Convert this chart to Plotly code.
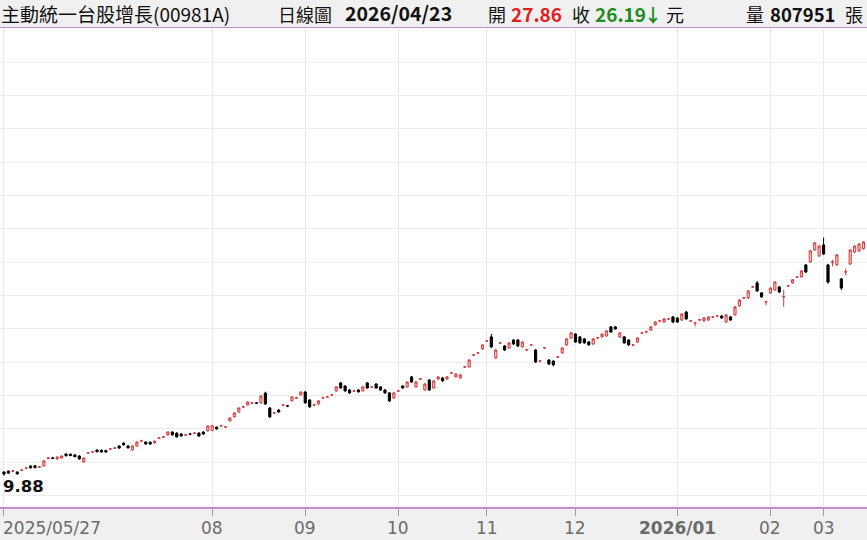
import plotly.graph_objects as go
import pandas as pd

# ---- data -------------------------------------------------------------
holidays = ["2025-05-30", "2025-09-29", "2025-10-06", "2025-10-10", "2025-10-24",
            "2026-01-01", "2026-02-12", "2026-02-13", "2026-02-16", "2026-02-17",
            "2026-02-18", "2026-02-19", "2026-02-20", "2026-02-27"]

opens = [10.05, 10.09, 10.08, 10.05, 10.12, 10.22, 10.32, 10.33, 10.27, 10.32,
         10.66, 10.68, 10.64, 10.68, 10.86, 10.85, 10.82, 10.77, 10.50, 10.90,
         10.95, 11.04, 11.03, 11.02, 11.08, 11.12, 11.22, 11.35, 11.22, 11.04,
         11.22, 11.44, 11.40, 11.39, 11.36, 11.57, 11.62, 11.72, 11.85, 11.80,
         11.76, 11.71, 11.76, 11.80, 11.80, 11.85, 11.90, 11.92, 12.07, 12.12,
         12.07, 12.35, 12.53, 12.75, 12.97, 13.07, 13.15, 13.16, 13.16, 13.60,
         12.93, 12.70, 12.84, 13.06, 13.02, 13.25, 13.38, 13.52, 13.65, 13.29,
         13.06, 13.11, 13.38, 13.43, 13.51, 13.70, 14.06, 13.92, 13.74, 13.69,
         13.74, 13.70, 14.06, 13.87, 14.01, 13.88, 13.74, 13.61, 13.38, 13.69,
         13.92, 13.88, 14.33, 13.88, 14.23, 13.74, 14.19, 13.83, 14.24, 14.28,
         14.24, 14.50, 14.33, 14.28, 14.77, 14.78, 15.31, 15.40, 15.59, 15.94,
         16.13, 15.18, 15.85, 15.72, 15.63, 15.99, 15.99, 15.68, 15.54, 15.76,
         15.54, 15.04, 15.63, 15.09, 15.04, 15.22, 15.41, 15.77, 16.08, 16.26,
         16.13, 16.04, 15.90, 15.81, 16.08, 16.13, 16.17, 16.58, 16.58, 16.13,
         16.13, 15.99, 15.76, 15.90, 16.30, 16.35, 16.44, 16.67, 16.84, 16.80,
         16.93, 17.03, 16.98, 16.89, 17.25, 16.84, 16.75, 16.89, 16.85, 16.89,
         17.02, 17.07, 17.07, 16.80, 17.03, 17.12, 17.52, 17.88, 17.88, 18.37,
         18.56, 18.11, 17.70, 18.11, 18.24, 18.38, 17.93, 18.42, 18.56, 18.82,
         18.83, 19.37, 19.50, 20.04, 19.77, 20.27, 19.37, 19.49, 19.37, 18.74,
         19.05, 19.41, 19.95, 20.00, 20.10]

highs = [10.08, 10.12, 10.14, 10.08, 10.18, 10.28, 10.35, 10.36, 10.32, 10.58,
         10.72, 10.73, 10.76, 10.80, 10.89, 10.88, 10.85, 10.80, 10.71, 10.95,
         11.00, 11.07, 11.06, 11.05, 11.13, 11.17, 11.25, 11.38, 11.26, 11.25,
         11.43, 11.50, 11.43, 11.42, 11.47, 11.62, 11.67, 11.88, 11.88, 11.84,
         11.80, 11.76, 11.80, 11.85, 11.84, 11.88, 12.15, 12.17, 12.10, 12.17,
         12.12, 12.51, 12.74, 12.96, 13.03, 13.23, 13.20, 13.20, 13.52, 13.66,
         12.98, 12.76, 12.88, 13.11, 13.07, 13.46, 13.43, 13.68, 13.70, 13.33,
         13.11, 13.28, 13.43, 13.48, 13.56, 13.91, 14.10, 13.96, 13.78, 13.74,
         13.78, 13.91, 14.10, 13.92, 14.05, 13.92, 13.78, 13.65, 13.64, 13.74,
         13.96, 14.13, 14.37, 14.14, 14.28, 14.05, 14.24, 14.18, 14.36, 14.32,
         14.37, 14.55, 14.50, 14.45, 14.82, 15.13, 15.36, 15.45, 15.80, 15.99,
         16.26, 15.58, 15.90, 15.76, 15.89, 16.03, 16.03, 15.93, 15.59, 15.81,
         15.58, 15.09, 15.68, 15.13, 15.08, 15.27, 15.67, 16.08, 16.34, 16.30,
         16.17, 16.08, 15.94, 16.07, 16.13, 16.29, 16.43, 16.62, 16.62, 16.34,
         16.17, 16.03, 15.81, 16.11, 16.35, 16.40, 16.61, 16.83, 16.89, 16.97,
         16.98, 17.07, 17.02, 17.20, 17.30, 16.89, 16.80, 16.94, 17.02, 17.06,
         17.07, 17.11, 17.11, 17.16, 17.07, 17.52, 17.83, 17.93, 18.24, 18.42,
         18.65, 18.15, 17.75, 18.37, 18.64, 18.42, 18.25, 18.47, 18.73, 18.87,
         19.13, 19.41, 20.04, 20.40, 20.26, 20.60, 19.41, 19.60, 19.86, 18.78,
         19.20, 20.08, 20.26, 20.36, 20.45]

lows = [9.88, 9.97, 10.04, 9.93, 10.09, 10.18, 10.20, 10.21, 10.23, 10.30,
        10.62, 10.63, 10.60, 10.65, 10.75, 10.76, 10.71, 10.60, 10.46, 10.86,
        10.91, 10.93, 10.92, 10.92, 11.04, 11.08, 11.10, 11.24, 11.10, 11.00,
        11.19, 11.40, 11.28, 11.27, 11.33, 11.53, 11.58, 11.69, 11.69, 11.60,
        11.64, 11.67, 11.71, 11.75, 11.63, 11.72, 11.87, 11.88, 11.95, 12.08,
        12.03, 12.32, 12.50, 12.72, 12.93, 13.04, 13.10, 13.11, 13.13, 13.07,
        12.48, 12.66, 12.72, 13.02, 12.97, 13.22, 13.34, 13.49, 13.12, 12.94,
        13.02, 13.08, 13.34, 13.38, 13.47, 13.66, 13.80, 13.66, 13.57, 13.65,
        13.62, 13.66, 13.80, 13.83, 13.80, 13.70, 13.57, 13.20, 13.34, 13.65,
        13.80, 13.84, 14.06, 13.84, 14.19, 13.70, 13.70, 13.80, 14.20, 14.11,
        14.20, 14.46, 14.30, 14.25, 14.73, 14.74, 15.27, 15.36, 15.55, 15.90,
        15.64, 15.14, 15.81, 15.50, 15.60, 15.77, 15.68, 15.64, 15.50, 15.72,
        14.96, 14.98, 15.59, 14.87, 14.80, 15.18, 15.37, 15.73, 16.04, 15.86,
        15.82, 15.82, 15.73, 15.77, 16.04, 16.10, 16.14, 16.31, 16.45, 16.09,
        15.82, 15.73, 15.72, 15.86, 16.26, 16.31, 16.40, 16.63, 16.80, 16.76,
        16.89, 16.76, 16.76, 16.85, 16.90, 16.80, 16.60, 16.85, 16.81, 16.85,
        16.98, 17.02, 16.94, 16.76, 16.85, 17.08, 17.48, 17.84, 17.84, 18.33,
        18.16, 17.89, 17.55, 18.07, 18.20, 18.11, 17.48, 18.38, 18.52, 18.78,
        18.79, 19.01, 19.46, 20.00, 19.73, 19.82, 18.52, 19.30, 19.33, 18.24,
        18.90, 19.37, 19.91, 19.96, 20.05]

closes = [9.96, 10.00, 10.10, 9.97, 10.14, 10.23, 10.24, 10.25, 10.28, 10.55,
          10.68, 10.67, 10.72, 10.77, 10.78, 10.79, 10.74, 10.64, 10.68, 10.91,
          10.96, 10.96, 10.95, 10.95, 11.09, 11.13, 11.13, 11.27, 11.14, 11.22,
          11.40, 11.45, 11.31, 11.31, 11.44, 11.58, 11.63, 11.85, 11.72, 11.63,
          11.67, 11.72, 11.75, 11.80, 11.67, 11.76, 12.12, 12.13, 11.99, 12.13,
          12.08, 12.48, 12.71, 12.93, 12.98, 13.20, 13.16, 13.15, 13.47, 13.11,
          12.53, 12.71, 12.75, 13.07, 13.02, 13.43, 13.39, 13.65, 13.16, 12.98,
          13.07, 13.25, 13.39, 13.43, 13.52, 13.88, 13.83, 13.70, 13.61, 13.70,
          13.66, 13.88, 13.83, 13.88, 13.83, 13.74, 13.61, 13.25, 13.61, 13.70,
          13.83, 14.10, 14.10, 14.10, 14.24, 14.01, 13.74, 14.15, 14.33, 14.15,
          14.33, 14.51, 14.46, 14.42, 14.78, 15.09, 15.32, 15.41, 15.77, 15.95,
          15.68, 15.54, 15.86, 15.54, 15.86, 15.81, 15.72, 15.90, 15.55, 15.77,
          15.00, 15.05, 15.64, 14.91, 14.87, 15.23, 15.63, 16.04, 16.31, 15.90,
          15.86, 15.86, 15.77, 16.04, 16.09, 16.26, 16.40, 16.35, 16.49, 16.31,
          15.86, 15.77, 15.77, 16.08, 16.31, 16.36, 16.58, 16.80, 16.85, 16.94,
          16.94, 16.80, 16.80, 17.16, 16.94, 16.85, 16.76, 16.90, 16.98, 17.03,
          17.03, 17.07, 16.98, 17.12, 16.89, 17.48, 17.79, 17.89, 18.20, 18.38,
          18.20, 17.93, 17.71, 18.33, 18.60, 18.15, 17.94, 18.43, 18.70, 18.83,
          19.10, 19.05, 20.00, 20.36, 20.22, 19.86, 18.60, 19.50, 19.82, 18.33,
          19.06, 20.04, 20.22, 20.31, 20.40]

first_label = "2025/05/27"
header_name = "主動統一台股增長(00981A)"
header_kind = "日線圖"
header_date = "2026/04/23"
header_open = "27.86"
header_close = "26.19"
header_volume = "807951"

# ---- build ------------------------------------------------------------
dates = [d for d in pd.bdate_range("2025-05-27", "2026-03-13")
         if d.strftime("%Y-%m-%d") not in holidays]
n = min(len(dates), len(opens), len(highs), len(lows), len(closes))
dates = dates[:n]
xs = list(range(n))

# month ticks (months too close to the first date label are skipped)
tick_idx, tick_txt = [], []
for i, d in enumerate(dates):
    if i == 0:
        tick_idx.append(i); tick_txt.append(first_label)
    elif d.month != dates[i - 1].month and i > 40:
        tick_idx.append(i)
        tick_txt.append(d.strftime("%Y/%m") if d.month == 1 else d.strftime("%m"))

fig = go.Figure(go.Candlestick(
    x=xs, open=opens[:n], high=highs[:n], low=lows[:n], close=closes[:n],
    increasing=dict(line=dict(color="#d33b3b", width=1), fillcolor="#f6cfcf"),
    decreasing=dict(line=dict(color="#000000", width=1), fillcolor="#000000"),
    whiskerwidth=0, hoverinfo="skip", showlegend=False,
))

W, H = 867, 540
top_m, bot_m = 28, 33
fig.update_layout(
    width=W, height=H,
    margin=dict(l=0, r=0, t=top_m, b=bot_m, pad=0, autoexpand=False),
    paper_bgcolor="#eff0ef", plot_bgcolor="#ffffff",
    showlegend=False,
    xaxis=dict(range=[-0.9, 194.8], rangeslider=dict(visible=False),
               tickmode="array", tickvals=tick_idx, ticktext=tick_txt,
               showticklabels=False, ticks="outside", ticklen=7, tickcolor="#9a9a9a",
               showgrid=True, gridcolor="#e9e9e9", gridwidth=1,
               showline=True, linecolor="#c58ccd", linewidth=1.5, mirror=True,
               zeroline=False, fixedrange=True),
    yaxis=dict(range=[8.475, 30.03], dtick=1.5, tick0=10.5, showticklabels=False,
               showgrid=True, gridcolor="#ededed", gridwidth=1, zeroline=False,
               showline=False, ticks="", fixedrange=True),
)

# month tick labels
for k, (ti, tt) in enumerate(zip(tick_idx, tick_txt)):
    bold = tt.startswith("2026")
    fig.add_annotation(x=ti, y=0, xref="x", yref="paper",
                       text=f"<b>{tt}</b>" if bold else tt,
                       showarrow=False, xanchor="left" if k == 0 else "center",
                       yanchor="middle", yshift=-21, xshift=-3 if k == 0 else 0,
                       font=dict(family="DejaVu Sans", size=17, color="#6b6b6b"))

# lowest-low label
imin = min(range(n), key=lambda i: lows[i])
fig.add_annotation(x=imin, y=lows[imin], xref="x", yref="y",
                   text=f"<b>{lows[imin]:.2f}</b>", showarrow=False,
                   xanchor="left", yanchor="top", xshift=-3, yshift=1,
                   font=dict(family="DejaVu Sans", size=16.5, color="#111111"))

# header
cjk = "Noto Sans CJK TC"
def head(px, text, color="#111111", size=18, bold=False, anchor="left"):
    fig.add_annotation(x=px / W, y=1, xref="paper", yref="paper",
                       text=f"<b>{text}</b>" if bold else text, showarrow=False,
                       xanchor=anchor, yanchor="bottom", yshift=0, borderpad=0,
                       font=dict(family=cjk, size=size, color=color))

head(0, header_name, size=19)
head(277, header_kind)
head(344, header_date, bold=True, size=19.5)
head(487, "開")
head(510, header_open, color="#e0201d", bold=True, size=19)
head(571, "收")
head(594, header_close, color="#1e8c1e", bold=True, size=19)
head(643, "↓", color="#1e8c1e", bold=True)
head(665, "元")
head(745, "量")
head(769, header_volume, bold=True, size=18.5)
head(864, "張", anchor="right")

fig.write_html("out.html", config={"displayModeBar": False, "staticPlot": True},
               post_script="document.body.style.margin='0';document.body.style.overflow='hidden';")
